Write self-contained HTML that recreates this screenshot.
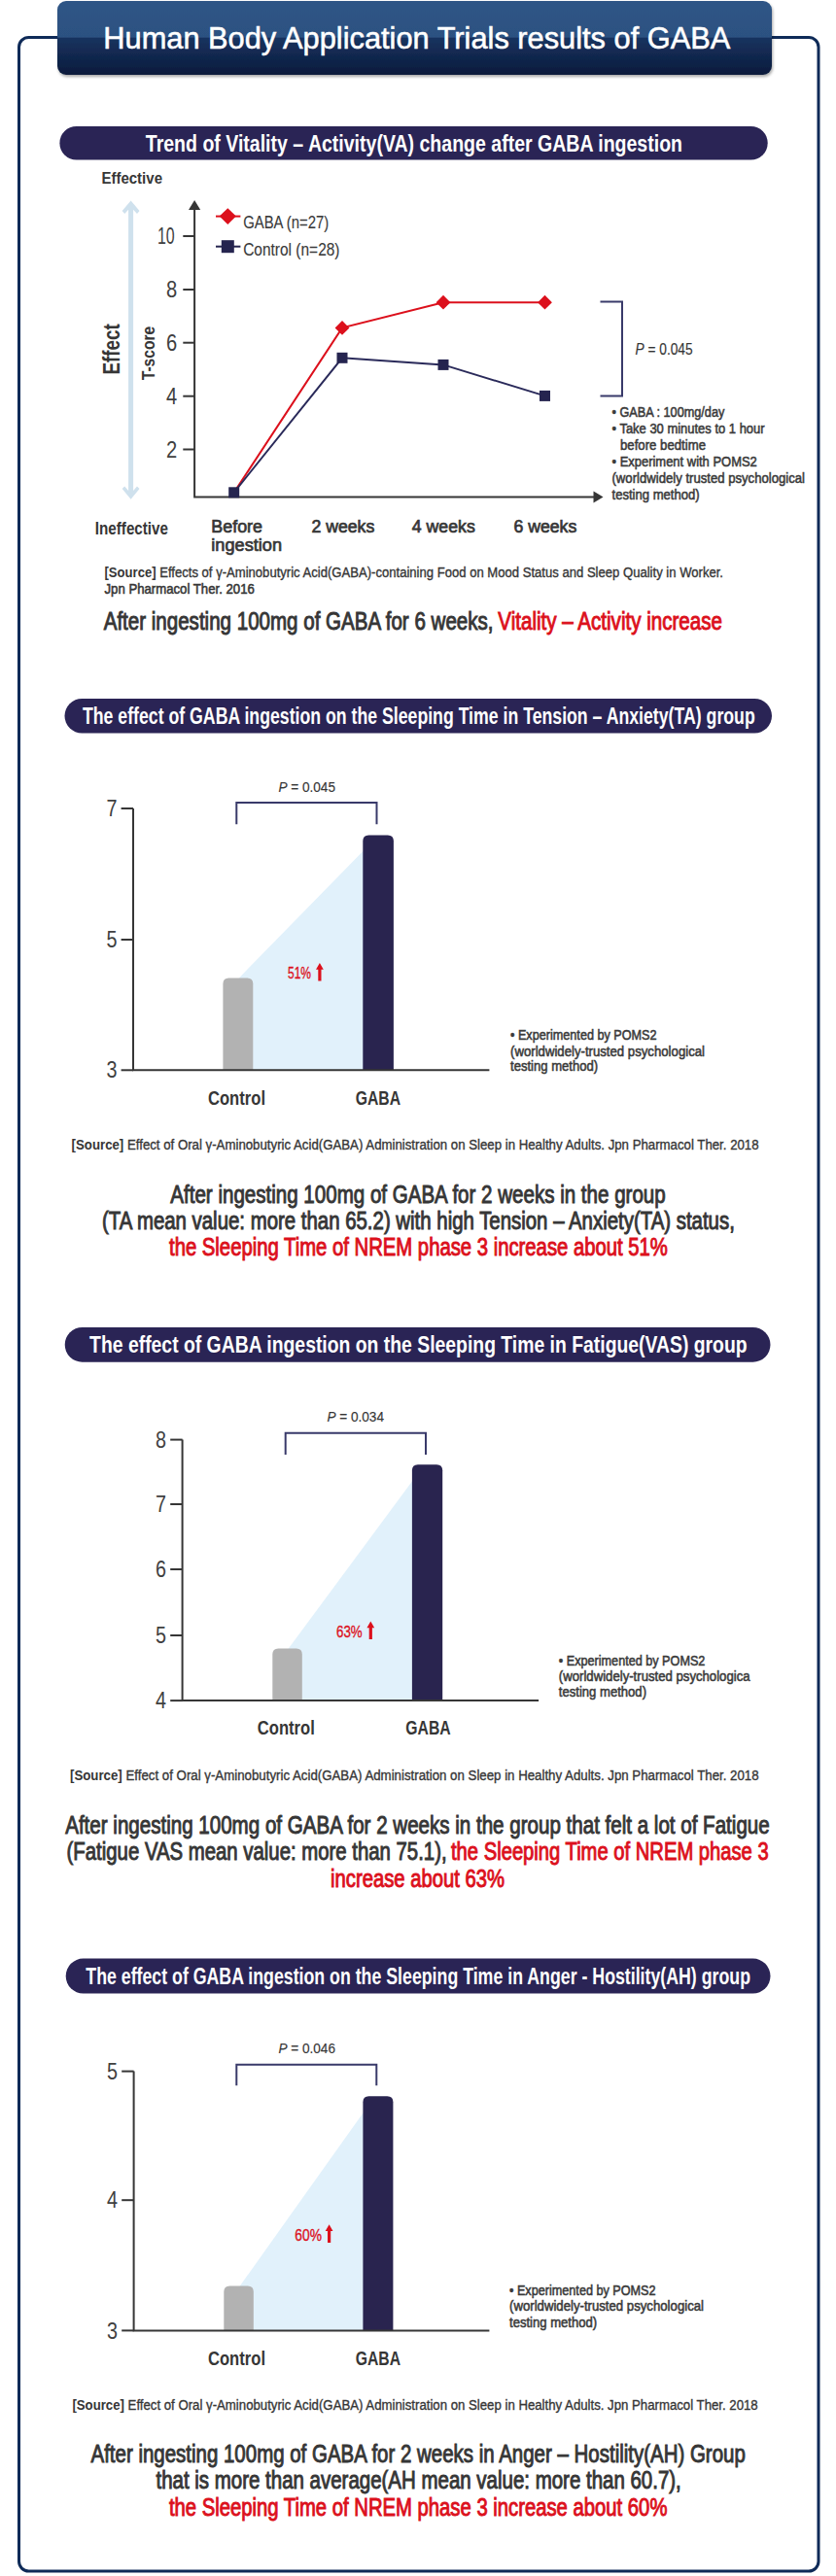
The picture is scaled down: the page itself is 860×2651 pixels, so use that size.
<!DOCTYPE html>
<html><head><meta charset="utf-8"><title>Human Body Application Trials results of GABA</title>
<style>
html,body{margin:0;padding:0;background:#ffffff;}
body{width:860px;height:2651px;overflow:hidden;font-family:"Liberation Sans",sans-serif;}
svg{display:block;font-family:"Liberation Sans",sans-serif;}
</style></head><body>
<svg width="860" height="2651" viewBox="0 0 860 2651">
<rect x="19.5" y="38.5" width="822.5" height="2607.5" rx="10" ry="10" fill="none" stroke="#0f2b58" stroke-width="3"/>
<defs>
<linearGradient id="tg" x1="0" y1="0" x2="0" y2="1">
<stop offset="0" stop-color="#2f5586"/><stop offset="0.49" stop-color="#2c5181"/>
<stop offset="0.5" stop-color="#17335f"/><stop offset="1" stop-color="#0b1b3c"/>
</linearGradient>
<filter id="sh" x="-5%" y="-20%" width="110%" height="150%"><feGaussianBlur in="SourceAlpha" stdDeviation="1.5"/><feOffset dx="1" dy="1.5"/><feComponentTransfer><feFuncA type="linear" slope="0.35"/></feComponentTransfer><feMerge><feMergeNode/><feMergeNode in="SourceGraphic"/></feMerge></filter>
</defs>
<rect x="59" y="1" width="735" height="76" rx="9" ry="9" fill="url(#tg)" filter="url(#sh)"/>
<text x="106.3" y="50.3" font-size="31.83" font-weight="normal" fill="#ffffff" stroke="#ffffff" stroke-width="0.55" textLength="645.0" lengthAdjust="spacingAndGlyphs">Human Body Application Trials results of GABA</text>
<rect x="61.4" y="130.0" width="728.3" height="34.5" rx="17.2" fill="#2a2455"/>
<text x="149.8" y="155.9" font-size="24.13" font-weight="bold" fill="#ffffff" textLength="552.2" lengthAdjust="spacingAndGlyphs">Trend of Vitality – Activity(VA) change after GABA ingestion</text>
<text x="104.4" y="189.0" font-size="17.15" font-weight="bold" fill="#363636" textLength="62.6" lengthAdjust="spacingAndGlyphs">Effective</text>
<text x="97.8" y="549.7" font-size="18.31" font-weight="bold" fill="#363636" textLength="75.2" lengthAdjust="spacingAndGlyphs">Ineffective</text>
<path fill="#cfe1ed" d="M134.6 206.5 L143.5 217 L141 220 L137.1 215.8 V505 L141 500.5 L143.5 503 L134.6 513.8 L125.7 503 L128.2 500.5 L132.1 505 V215.8 L128.2 220 L125.7 217 Z"/>
<g stroke="#363636" stroke-width="2" fill="none"><path d="M200.1 212 V511.4 H614"/><path d="M188.3 243 H200"/><path d="M188.3 298 H200"/><path d="M188.3 352.7 H200"/><path d="M188.3 407.7 H200"/><path d="M188.3 462.5 H200"/></g>
<path d="M200.1 206 L206.2 216 L194 216 Z" fill="#363636"/>
<path d="M620.5 511.4 L610.5 505.4 L610.5 517.4 Z" fill="#363636"/>
<text x="162.0" y="251.1" font-size="23.55" font-weight="normal" fill="#404040" textLength="17.7" lengthAdjust="spacingAndGlyphs">10</text>
<text x="171.0" y="306.1" font-size="23.55" font-weight="normal" fill="#404040" textLength="11.2" lengthAdjust="spacingAndGlyphs">8</text>
<text x="171.0" y="360.8" font-size="23.55" font-weight="normal" fill="#404040" textLength="11.2" lengthAdjust="spacingAndGlyphs">6</text>
<text x="171.0" y="415.8" font-size="23.55" font-weight="normal" fill="#404040" textLength="11.2" lengthAdjust="spacingAndGlyphs">4</text>
<text x="171.0" y="470.6" font-size="23.55" font-weight="normal" fill="#404040" textLength="11.2" lengthAdjust="spacingAndGlyphs">2</text>
<text transform="translate(122.6 385.6) rotate(-90)" font-size="23.11" font-weight="bold" fill="#363636" textLength="52.5" lengthAdjust="spacingAndGlyphs">Effect</text>
<text transform="translate(159.1 391.3) rotate(-90)" font-size="18.60" font-weight="bold" fill="#363636" textLength="55.6" lengthAdjust="spacingAndGlyphs">T-score</text>
<polyline points="240.7,506.8 352,337.4 456,311.2 560.5,311.2" fill="none" stroke="#dc101c" stroke-width="2"/>
<polyline points="240.7,506.8 352,368.3 456,375.4 560.5,407.4" fill="none" stroke="#2a2a5a" stroke-width="2"/>
<path d="M352 330.0 L359.4 337.4 L352 344.79999999999995 L344.6 337.4 Z" fill="#dc101c"/>
<path d="M456 303.8 L463.4 311.2 L456 318.59999999999997 L448.6 311.2 Z" fill="#dc101c"/>
<path d="M560.5 303.8 L567.9 311.2 L560.5 318.59999999999997 L553.1 311.2 Z" fill="#dc101c"/>
<rect x="235.2" y="501.3" width="11" height="11" fill="#25244f"/>
<rect x="346.5" y="362.8" width="11" height="11" fill="#25244f"/>
<rect x="450.5" y="369.9" width="11" height="11" fill="#25244f"/>
<rect x="555.0" y="401.9" width="11" height="11" fill="#25244f"/>
<path d="M222 222.6 H247.4" stroke="#dc101c" stroke-width="2"/><path d="M234.3 214.2 L242.9 222.6 L234.3 231 L225.7 222.6 Z" fill="#dc101c"/>
<path d="M222 253.7 H247.4" stroke="#25244f" stroke-width="2"/><rect x="227.8" y="247.2" width="13" height="13" fill="#25244f"/>
<text x="250.2" y="234.7" font-size="18.02" font-weight="normal" fill="#3a3a3a" stroke="#3a3a3a" stroke-width="0.12" textLength="88.1" lengthAdjust="spacingAndGlyphs">GABA (n=27)</text>
<text x="250.2" y="262.7" font-size="18.02" font-weight="normal" fill="#3a3a3a" stroke="#3a3a3a" stroke-width="0.12" textLength="99.3" lengthAdjust="spacingAndGlyphs">Control (n=28)</text>
<path d="M617.5 310.5 H640 V407.4 H617.5" fill="none" stroke="#393a6a" stroke-width="2"/>
<text x="653.5" y="364.7" font-size="15.99" font-weight="normal" fill="#363636" stroke="#363636" stroke-width="0.15" textLength="59.1" lengthAdjust="spacingAndGlyphs"><tspan font-style="italic">P</tspan> = 0.045</text>
<text x="629.5" y="429.0" font-size="14.83" font-weight="normal" fill="#3a3a3a" stroke="#3a3a3a" stroke-width="0.56" textLength="115.8" lengthAdjust="spacingAndGlyphs">• GABA : 100mg/day</text>
<text x="629.5" y="446.0" font-size="14.83" font-weight="normal" fill="#3a3a3a" stroke="#3a3a3a" stroke-width="0.56" textLength="157.1" lengthAdjust="spacingAndGlyphs">• Take 30 minutes to 1 hour</text>
<text x="638.0" y="463.0" font-size="14.83" font-weight="normal" fill="#3a3a3a" stroke="#3a3a3a" stroke-width="0.56" textLength="88.0" lengthAdjust="spacingAndGlyphs">before bedtime</text>
<text x="629.5" y="480.0" font-size="14.83" font-weight="normal" fill="#3a3a3a" stroke="#3a3a3a" stroke-width="0.56" textLength="149.3" lengthAdjust="spacingAndGlyphs">• Experiment with POMS2</text>
<text x="629.5" y="497.0" font-size="14.83" font-weight="normal" fill="#3a3a3a" stroke="#3a3a3a" stroke-width="0.56" textLength="198.5" lengthAdjust="spacingAndGlyphs">(worldwidely trusted psychological</text>
<text x="629.5" y="514.0" font-size="14.83" font-weight="normal" fill="#3a3a3a" stroke="#3a3a3a" stroke-width="0.56" textLength="90.2" lengthAdjust="spacingAndGlyphs">testing method)</text>
<text x="217.3" y="547.5" font-size="18.90" font-weight="normal" fill="#363636" stroke="#363636" stroke-width="0.72" textLength="52.7" lengthAdjust="spacingAndGlyphs">Before</text>
<text x="217.3" y="566.8" font-size="18.90" font-weight="normal" fill="#363636" stroke="#363636" stroke-width="0.72" textLength="72.7" lengthAdjust="spacingAndGlyphs">ingestion</text>
<text x="320.4" y="547.5" font-size="18.90" font-weight="normal" fill="#363636" stroke="#363636" stroke-width="0.72" textLength="64.9" lengthAdjust="spacingAndGlyphs">2 weeks</text>
<text x="423.8" y="547.5" font-size="18.90" font-weight="normal" fill="#363636" stroke="#363636" stroke-width="0.72" textLength="65.0" lengthAdjust="spacingAndGlyphs">4 weeks</text>
<text x="528.4" y="547.5" font-size="18.90" font-weight="normal" fill="#363636" stroke="#363636" stroke-width="0.72" textLength="64.9" lengthAdjust="spacingAndGlyphs">6 weeks</text>
<text x="107.5" y="593.6" font-size="14.24" fill="#363636" stroke="#363636" stroke-width="0.35" textLength="636.5" lengthAdjust="spacingAndGlyphs"><tspan font-weight="bold" stroke-width="0">[Source]</tspan> Effects of γ-Aminobutyric Acid(GABA)-containing Food on Mood Status and Sleep Quality in Worker.</text>
<text x="107.5" y="611.0" font-size="14.24" font-weight="normal" fill="#363636" stroke="#363636" stroke-width="0.54" textLength="154.3" lengthAdjust="spacingAndGlyphs">Jpn Pharmacol Ther. 2016</text>
<text x="106.7" y="647.5" font-size="25.00" font-weight="normal" fill="#363636" stroke="#363636" stroke-width="0.95" textLength="400.8" lengthAdjust="spacingAndGlyphs">After ingesting 100mg of GABA for 6 weeks,</text>
<text x="512.3" y="647.5" font-size="25.00" font-weight="normal" fill="#dc101c" stroke="#dc101c" stroke-width="0.95" textLength="230.7" lengthAdjust="spacingAndGlyphs">Vitality – Activity increase</text>
<rect x="66.5" y="719.0" width="727.5" height="35.5" rx="17.8" fill="#2a2455"/>
<text x="85.0" y="745.0" font-size="24.13" font-weight="bold" fill="#ffffff" textLength="691.7" lengthAdjust="spacingAndGlyphs">The effect of GABA ingestion on the Sleeping Time in Tension – Anxiety(TA) group</text>
<path d="M245.9 1006.4 L375.3 873.9 L375.3 1101.3 L252.3 1101.3 Z" fill="#e1f1fb"/>
<path d="M229.4 1101.3 V1012.4 Q229.4 1006.4 235.4 1006.4 H254.3 Q260.3 1006.4 260.3 1012.4 V1101.3 Z" fill="#b2b2b2"/>
<path d="M373.3 1101.3 V865.4 Q373.3 859.4 379.3 859.4 H398.9 Q404.9 859.4 404.9 865.4 V1101.3 Z" fill="#29244f"/>
<path d="M137 832 V1101.3 H503.4" fill="none" stroke="#363636" stroke-width="2"/>
<path d="M124.6 832 H137" stroke="#363636" stroke-width="2"/>
<text x="109.5" y="840.1" font-size="23.55" font-weight="normal" fill="#404040" textLength="11.0" lengthAdjust="spacingAndGlyphs">7</text>
<path d="M124.6 967 H137" stroke="#363636" stroke-width="2"/>
<text x="109.5" y="975.1" font-size="23.55" font-weight="normal" fill="#404040" textLength="11.0" lengthAdjust="spacingAndGlyphs">5</text>
<path d="M124.6 1101.3 H137" stroke="#363636" stroke-width="2"/>
<text x="109.5" y="1109.4" font-size="23.55" font-weight="normal" fill="#404040" textLength="11.0" lengthAdjust="spacingAndGlyphs">3</text>
<path d="M243.3 848.3 V826 H387.5 V848.3" fill="none" stroke="#393a6a" stroke-width="2"/>
<text x="286.4" y="814.6" font-size="15.12" font-weight="normal" fill="#363636" stroke="#363636" stroke-width="0.15" textLength="58.6" lengthAdjust="spacingAndGlyphs"><tspan font-style="italic">P</tspan> = 0.045</text>
<text x="296.0" y="1007.1" font-size="16.86" font-weight="normal" fill="#dc101c" stroke="#dc101c" stroke-width="0.35" textLength="24.0" lengthAdjust="spacingAndGlyphs">51%</text>
<path d="M328.9 990.9 L332.8 997.7 L330.5 997.7 L330.5 1009.5 L327.3 1009.5 L327.3 997.7 L325.0 997.7 Z" fill="#dc101c"/>
<text x="214.0" y="1137.0" font-size="19.77" font-weight="bold" fill="#363636" textLength="59.0" lengthAdjust="spacingAndGlyphs">Control</text>
<text x="365.7" y="1137.0" font-size="19.77" font-weight="bold" fill="#363636" textLength="46.3" lengthAdjust="spacingAndGlyphs">GABA</text>
<text x="525.0" y="1070.0" font-size="14.83" font-weight="normal" fill="#3a3a3a" stroke="#3a3a3a" stroke-width="0.56" textLength="150.6" lengthAdjust="spacingAndGlyphs">• Experimented by POMS2</text>
<text x="525.0" y="1087.4" font-size="14.83" font-weight="normal" fill="#3a3a3a" stroke="#3a3a3a" stroke-width="0.56" textLength="200.0" lengthAdjust="spacingAndGlyphs">(worldwidely-trusted psychological</text>
<text x="525.0" y="1102.4" font-size="14.83" font-weight="normal" fill="#3a3a3a" stroke="#3a3a3a" stroke-width="0.56" textLength="90.2" lengthAdjust="spacingAndGlyphs">testing method)</text>
<text x="73.6" y="1183" font-size="14.83" fill="#363636" stroke="#363636" stroke-width="0.35" textLength="707" lengthAdjust="spacingAndGlyphs"><tspan font-weight="bold" stroke-width="0">[Source]</tspan> Effect of Oral γ-Aminobutyric Acid(GABA) Administration on Sleep in Healthy Adults. Jpn Pharmacol Ther. 2018</text>
<text x="175.3" y="1238.0" font-size="25.00" font-weight="normal" fill="#363636" stroke="#363636" stroke-width="0.95" textLength="509.4" lengthAdjust="spacingAndGlyphs">After ingesting 100mg of GABA for 2 weeks in the group</text>
<text x="105.0" y="1265.0" font-size="25.00" font-weight="normal" fill="#363636" stroke="#363636" stroke-width="0.95" textLength="650.8" lengthAdjust="spacingAndGlyphs">(TA mean value: more than 65.2) with high Tension – Anxiety(TA) status,</text>
<text x="174.0" y="1291.8" font-size="25.00" font-weight="normal" fill="#dc101c" stroke="#dc101c" stroke-width="0.95" textLength="512.9" lengthAdjust="spacingAndGlyphs">the Sleeping Time of NREM phase 3 increase about 51%</text>
<rect x="66.7" y="1366.0" width="725.8" height="35.7" rx="17.9" fill="#2a2455"/>
<text x="92.1" y="1391.8" font-size="24.13" font-weight="bold" fill="#ffffff" textLength="676.5" lengthAdjust="spacingAndGlyphs">The effect of GABA ingestion on the Sleeping Time in Fatigue(VAS) group</text>
<path d="M296.8 1696.5 L425.9 1521.8 L425.9 1750.1 L302.8 1750.1 Z" fill="#e1f1fb"/>
<path d="M280.3 1750.1 V1702.5 Q280.3 1696.5 286.3 1696.5 H304.8 Q310.8 1696.5 310.8 1702.5 V1750.1 Z" fill="#b2b2b2"/>
<path d="M423.9 1750.1 V1513.3 Q423.9 1507.3 429.9 1507.3 H449.2 Q455.2 1507.3 455.2 1513.3 V1750.1 Z" fill="#29244f"/>
<path d="M187.6 1481.6 V1750.1 H554.1" fill="none" stroke="#363636" stroke-width="2"/>
<path d="M175.2 1481.6 H187.6" stroke="#363636" stroke-width="2"/>
<text x="160.1" y="1489.7" font-size="23.55" font-weight="normal" fill="#404040" textLength="11.0" lengthAdjust="spacingAndGlyphs">8</text>
<path d="M175.2 1548 H187.6" stroke="#363636" stroke-width="2"/>
<text x="160.1" y="1556.1" font-size="23.55" font-weight="normal" fill="#404040" textLength="11.0" lengthAdjust="spacingAndGlyphs">7</text>
<path d="M175.2 1615 H187.6" stroke="#363636" stroke-width="2"/>
<text x="160.1" y="1623.1" font-size="23.55" font-weight="normal" fill="#404040" textLength="11.0" lengthAdjust="spacingAndGlyphs">6</text>
<path d="M175.2 1683 H187.6" stroke="#363636" stroke-width="2"/>
<text x="160.1" y="1691.1" font-size="23.55" font-weight="normal" fill="#404040" textLength="11.0" lengthAdjust="spacingAndGlyphs">5</text>
<path d="M175.2 1750.1 H187.6" stroke="#363636" stroke-width="2"/>
<text x="160.1" y="1758.2" font-size="23.55" font-weight="normal" fill="#404040" textLength="11.0" lengthAdjust="spacingAndGlyphs">4</text>
<path d="M293.7 1497.1 V1474.7 H438 V1497.1" fill="none" stroke="#393a6a" stroke-width="2"/>
<text x="336.4" y="1463.3" font-size="15.12" font-weight="normal" fill="#363636" stroke="#363636" stroke-width="0.15" textLength="58.6" lengthAdjust="spacingAndGlyphs"><tspan font-style="italic">P</tspan> = 0.034</text>
<text x="346.0" y="1684.7" font-size="16.86" font-weight="normal" fill="#dc101c" stroke="#dc101c" stroke-width="0.35" textLength="26.7" lengthAdjust="spacingAndGlyphs">63%</text>
<path d="M381.3 1668.5 L385.2 1675.3 L382.9 1675.3 L382.9 1687.1 L379.7 1687.1 L379.7 1675.3 L377.4 1675.3 Z" fill="#dc101c"/>
<text x="264.8" y="1784.7" font-size="19.77" font-weight="bold" fill="#363636" textLength="59.0" lengthAdjust="spacingAndGlyphs">Control</text>
<text x="417.3" y="1784.7" font-size="19.77" font-weight="bold" fill="#363636" textLength="46.3" lengthAdjust="spacingAndGlyphs">GABA</text>
<text x="574.8" y="1713.7" font-size="14.83" font-weight="normal" fill="#3a3a3a" stroke="#3a3a3a" stroke-width="0.56" textLength="150.6" lengthAdjust="spacingAndGlyphs">• Experimented by POMS2</text>
<text x="574.8" y="1729.6" font-size="14.83" font-weight="normal" fill="#3a3a3a" stroke="#3a3a3a" stroke-width="0.56" textLength="196.8" lengthAdjust="spacingAndGlyphs">(worldwidely-trusted psychologica</text>
<text x="574.8" y="1746.0" font-size="14.83" font-weight="normal" fill="#3a3a3a" stroke="#3a3a3a" stroke-width="0.56" textLength="90.2" lengthAdjust="spacingAndGlyphs">testing method)</text>
<text x="72" y="1831.5" font-size="14.83" fill="#363636" stroke="#363636" stroke-width="0.35" textLength="708.6" lengthAdjust="spacingAndGlyphs"><tspan font-weight="bold" stroke-width="0">[Source]</tspan> Effect of Oral γ-Aminobutyric Acid(GABA) Administration on Sleep in Healthy Adults. Jpn Pharmacol Ther. 2018</text>
<text x="67.2" y="1886.6" font-size="25.00" font-weight="normal" fill="#363636" stroke="#363636" stroke-width="0.95" textLength="724.5" lengthAdjust="spacingAndGlyphs">After ingesting 100mg of GABA for 2 weeks in the group that felt a lot of Fatigue</text>
<text x="68.6" y="1914.3" font-size="25.00" font-weight="normal" fill="#363636" stroke="#363636" stroke-width="0.95" textLength="391.0" lengthAdjust="spacingAndGlyphs">(Fatigue VAS mean value: more than 75.1),</text>
<text x="464.0" y="1914.3" font-size="25.00" font-weight="normal" fill="#dc101c" stroke="#dc101c" stroke-width="0.95" textLength="326.7" lengthAdjust="spacingAndGlyphs">the Sleeping Time of NREM phase 3</text>
<text x="340.0" y="1941.6" font-size="25.00" font-weight="normal" fill="#dc101c" stroke="#dc101c" stroke-width="0.95" textLength="179.0" lengthAdjust="spacingAndGlyphs">increase about 63%</text>
<rect x="67.7" y="2015.6" width="724.8" height="35.9" rx="18.0" fill="#2a2455"/>
<text x="88.3" y="2041.8" font-size="24.13" font-weight="bold" fill="#ffffff" textLength="683.7" lengthAdjust="spacingAndGlyphs">The effect of GABA ingestion on the Sleeping Time in Anger - Hostility(AH) group</text>
<path d="M246.8 2352.5 L375.4 2171.8 L375.4 2398.4 L252.8 2398.4 Z" fill="#e1f1fb"/>
<path d="M230.3 2398.4 V2358.5 Q230.3 2352.5 236.3 2352.5 H254.8 Q260.8 2352.5 260.8 2358.5 V2398.4 Z" fill="#b2b2b2"/>
<path d="M373.4 2398.4 V2163.3 Q373.4 2157.3 379.4 2157.3 H398.4 Q404.4 2157.3 404.4 2163.3 V2398.4 Z" fill="#29244f"/>
<path d="M137.6 2131.6 V2398.4 H503.4" fill="none" stroke="#363636" stroke-width="2"/>
<path d="M125.2 2131.6 H137.6" stroke="#363636" stroke-width="2"/>
<text x="110.1" y="2139.7" font-size="23.55" font-weight="normal" fill="#404040" textLength="11.0" lengthAdjust="spacingAndGlyphs">5</text>
<path d="M125.2 2264.2 H137.6" stroke="#363636" stroke-width="2"/>
<text x="110.1" y="2272.3" font-size="23.55" font-weight="normal" fill="#404040" textLength="11.0" lengthAdjust="spacingAndGlyphs">4</text>
<path d="M125.2 2398.4 H137.6" stroke="#363636" stroke-width="2"/>
<text x="110.1" y="2406.5" font-size="23.55" font-weight="normal" fill="#404040" textLength="11.0" lengthAdjust="spacingAndGlyphs">3</text>
<path d="M243.3 2146.3 V2124.7 H387.3 V2146.3" fill="none" stroke="#393a6a" stroke-width="2"/>
<text x="286.4" y="2112.5" font-size="15.12" font-weight="normal" fill="#363636" stroke="#363636" stroke-width="0.15" textLength="58.6" lengthAdjust="spacingAndGlyphs"><tspan font-style="italic">P</tspan> = 0.046</text>
<text x="303.3" y="2305.5" font-size="16.86" font-weight="normal" fill="#dc101c" stroke="#dc101c" stroke-width="0.35" textLength="27.6" lengthAdjust="spacingAndGlyphs">60%</text>
<path d="M338.6 2289.3 L342.5 2296.1 L340.2 2296.1 L340.2 2307.9 L337.0 2307.9 L337.0 2296.1 L334.7 2296.1 Z" fill="#dc101c"/>
<text x="214.0" y="2433.8" font-size="19.77" font-weight="bold" fill="#363636" textLength="59.0" lengthAdjust="spacingAndGlyphs">Control</text>
<text x="365.7" y="2433.8" font-size="19.77" font-weight="bold" fill="#363636" textLength="46.3" lengthAdjust="spacingAndGlyphs">GABA</text>
<text x="524.0" y="2362.3" font-size="14.83" font-weight="normal" fill="#3a3a3a" stroke="#3a3a3a" stroke-width="0.56" textLength="150.6" lengthAdjust="spacingAndGlyphs">• Experimented by POMS2</text>
<text x="524.0" y="2378.2" font-size="14.83" font-weight="normal" fill="#3a3a3a" stroke="#3a3a3a" stroke-width="0.56" textLength="200.0" lengthAdjust="spacingAndGlyphs">(worldwidely-trusted psychological</text>
<text x="524.0" y="2394.6" font-size="14.83" font-weight="normal" fill="#3a3a3a" stroke="#3a3a3a" stroke-width="0.56" textLength="90.2" lengthAdjust="spacingAndGlyphs">testing method)</text>
<text x="74.4" y="2479.7" font-size="14.83" fill="#363636" stroke="#363636" stroke-width="0.35" textLength="705.3" lengthAdjust="spacingAndGlyphs"><tspan font-weight="bold" stroke-width="0">[Source]</tspan> Effect of Oral γ-Aminobutyric Acid(GABA) Administration on Sleep in Healthy Adults. Jpn Pharmacol Ther. 2018</text>
<text x="93.5" y="2533.7" font-size="25.00" font-weight="normal" fill="#363636" stroke="#363636" stroke-width="0.95" textLength="673.3" lengthAdjust="spacingAndGlyphs">After ingesting 100mg of GABA for 2 weeks in Anger – Hostility(AH) Group</text>
<text x="160.5" y="2561.0" font-size="25.00" font-weight="normal" fill="#363636" stroke="#363636" stroke-width="0.95" textLength="540.3" lengthAdjust="spacingAndGlyphs">that is more than average(AH mean value: more than 60.7),</text>
<text x="173.9" y="2588.8" font-size="25.00" font-weight="normal" fill="#dc101c" stroke="#dc101c" stroke-width="0.95" textLength="512.5" lengthAdjust="spacingAndGlyphs">the Sleeping Time of NREM phase 3 increase about 60%</text>
</svg>
</body></html>
